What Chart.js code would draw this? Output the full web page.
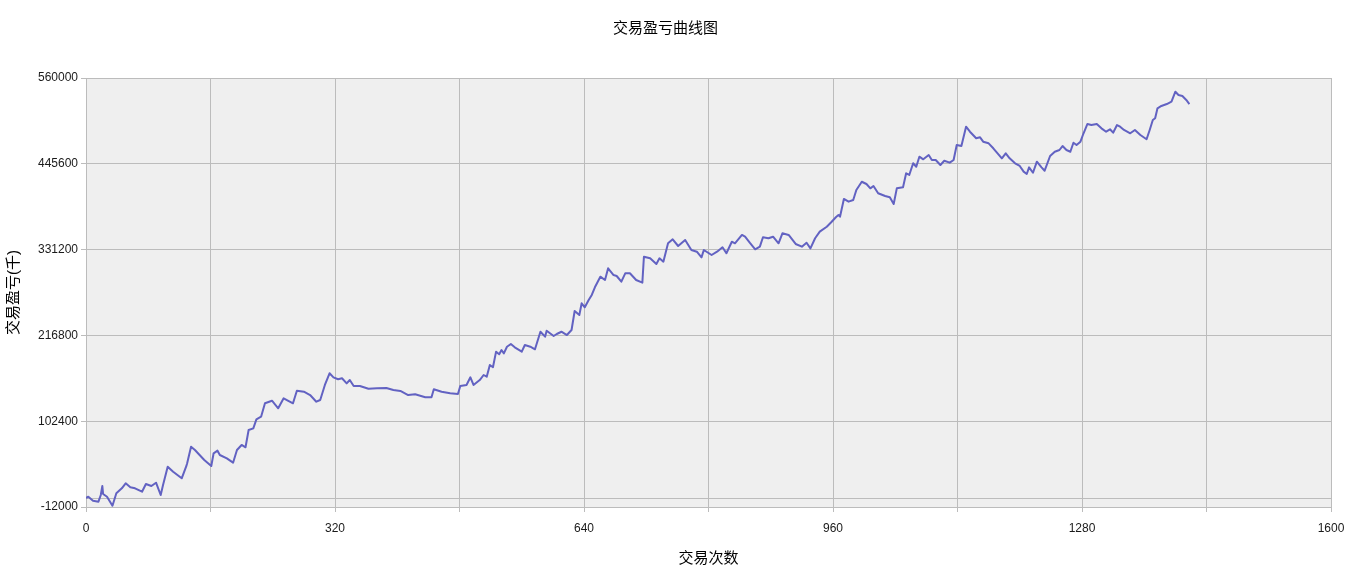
<!DOCTYPE html>
<html>
<head>
<meta charset="utf-8">
<title>交易盈亏曲线图</title>
<script src="https://cdn.jsdelivr.net/npm/chart.js@4.4.1/dist/chart.umd.min.js"></script>
<style>
  html, body { margin: 0; padding: 0; background: #ffffff; }
  #wrap { width: 1350px; height: 576px; }
</style>
</head>
<body>
<div id="wrap"><canvas id="pnl-chart" width="1350" height="576"></canvas></div>
<script>
// --- Data ---
var chartTitle = '交易盈亏曲线图';
var xTitle = '交易次数';
var yTitle = '交易盈亏(千)';

// trade number of each sampled point
var trades = [
  0, 3, 9, 16, 19, 21, 22, 27, 34, 39, 46, 51, 57, 63, 72, 77, 84, 90, 96, 99,
  105, 112, 123, 129, 130, 135, 140, 152, 161, 164, 169, 172, 181, 189, 194, 200, 205, 209, 215, 219,
  225, 230, 239, 247, 254, 266, 271, 280, 288, 296, 301, 307, 313, 318, 324, 329, 335, 339, 344, 352,
  363, 374, 386, 395, 404, 414, 423, 436, 444, 447, 457, 468, 478, 481, 489, 494, 498, 506, 511, 515,
  519, 523, 527, 531, 534, 537, 541, 546, 551, 560, 564, 571, 577, 584, 590, 592, 601, 605, 611, 618,
  624, 628, 634, 637, 641, 646, 650, 654, 661, 667, 671, 678, 682, 688, 693, 699, 707, 715, 717, 725,
  733, 737, 742, 748, 754, 761, 770, 778, 785, 791, 794, 804, 811, 818, 823, 830, 834, 843, 847, 853,
  860, 866, 870, 877, 883, 890, 895, 903, 912, 920, 926, 931, 937, 943, 952, 958, 964, 967, 969, 974,
  980, 986, 990, 997, 1003, 1008, 1012, 1018, 1027, 1033, 1038, 1042, 1050, 1054, 1058, 1063, 1067, 1071, 1076, 1083,
  1087, 1092, 1098, 1103, 1110, 1115, 1119, 1125, 1131, 1136, 1144, 1149, 1153, 1160, 1166, 1177, 1182, 1187, 1194, 1200,
  1205, 1209, 1212, 1217, 1222, 1228, 1232, 1239, 1245, 1251, 1255, 1260, 1265, 1269, 1273, 1278, 1282, 1287, 1292, 1299,
  1305, 1311, 1316, 1320, 1325, 1329, 1334, 1342, 1348, 1355, 1363, 1367, 1371, 1374, 1377, 1382, 1389, 1395, 1400, 1404,
  1409, 1414, 1418
];

// cumulative profit / loss at each sampled point
var pnl = [
  0, 1700, -3600, -4900, 4000, 16000, 5300, 1700, -10300, 6300, 12900, 19600, 14300, 12900, 8400, 18700, 16000, 20400, 4000, 17300,
  41700, 35100, 26300, 42700, 46300, 68400, 64000, 50700, 42700, 59600, 63100, 57300, 52900, 47100, 64000, 70700, 67600, 90700, 92900, 104900,
  108400, 126300, 129700, 119600, 132900, 126300, 143100, 141700, 137300, 128400, 130700, 150700, 166300, 160900, 158300, 159600, 152900, 157300, 149300, 149300,
  145700, 146300, 146700, 144000, 142700, 137300, 138300, 134300, 134300, 144900, 141700, 139600, 138700, 149300, 150700, 160900, 150700, 157300, 164000, 161700,
  177300, 174300, 195100, 191600, 197300, 192900, 201700, 205300, 200900, 195100, 204000, 201700, 198300, 221700, 215100, 223100, 216000, 218700, 221700, 217300,
  224000, 249300, 244000, 259600, 254300, 264000, 270700, 280900, 295100, 290700, 306300, 297300, 296000, 288400, 299600, 299600, 290700, 287100, 321700, 319600,
  312000, 319600, 315100, 339600, 344900, 336000, 344000, 330700, 328400, 320900, 330700, 324000, 328400, 334300, 326300, 341700, 339600, 350700, 348400, 340400,
  331600, 335100, 347600, 346300, 348400, 339600, 352900, 350700, 338700, 335100, 340400, 332900, 346300, 355100, 361700, 368000, 374700, 377300, 375100, 398700,
  395100, 397300, 410700, 421700, 418700, 412900, 416000, 406300, 402700, 400900, 392000, 412900, 414300, 432900, 430700, 446300, 441700, 455100, 451600, 457300,
  450700, 450700, 444000, 449700, 447100, 450700, 470700, 469300, 495100, 488400, 479600, 480900, 475100, 472900, 466300, 452900, 459600, 452900, 446300, 442700,
  435100, 432000, 440900, 433700, 448400, 440900, 436400, 456000, 461700, 464000, 469300, 464000, 461700, 473700, 470700, 475100, 486300, 498700, 497300, 498700,
  492900, 488400, 491600, 487100, 497300, 495100, 490700, 486300, 490700, 484000, 478300, 490700, 504000, 506300, 519600, 522700, 525300, 528400, 541700, 537300,
  536000, 530700, 525300
];

// axis ticks (x gridline every 160, label every 320; extra unlabeled y line at zero)
var xTicks = [0, 160, 320, 480, 640, 800, 960, 1120, 1280, 1440, 1600];
var xLabelled = [0, 320, 640, 960, 1280, 1600];
var yTicks = [-12000, 0, 102400, 216800, 331200, 445600, 560000];
var yLabelled = [-12000, 102400, 216800, 331200, 445600, 560000];

(function () {
  'use strict';

  if (typeof Chart === 'undefined') return;

  var colors = {
    line:     '#6262c2',
    plotBg:   '#efefef',
    grid:     '#bcbcbc',
    text:     '#1a1a1a'
  };

  var fontFamily = '"Liberation Sans", Arial, "Noto Sans CJK SC", sans-serif';

  // Plugin: grey fill behind the plotting area only
  var plotBackground = {
    id: 'plotBackground',
    beforeDraw: function (chart) {
      var a = chart.chartArea;
      var ctx = chart.ctx;
      ctx.save();
      ctx.fillStyle = colors.plotBg;
      ctx.fillRect(a.left, a.top, a.right - a.left, a.bottom - a.top);
      ctx.restore();
    }
  };

  function fixedTicks(list) {
    return function (scale) {
      scale.ticks = list.map(function (v) { return { value: v }; });
    };
  }

  var points = trades.map(function (t, i) { return { x: t, y: pnl[i] }; });

  var ctx = document.getElementById('pnl-chart').getContext('2d');

  new Chart(ctx, {
    type: 'line',
    data: {
      datasets: [{
        data: points,
        borderColor: colors.line,
        borderWidth: 2,
        borderJoinStyle: 'round',
        pointRadius: 0,
        tension: 0,
        fill: false
      }]
    },
    options: {
      responsive: false,
      animation: false,
      devicePixelRatio: 1,
      layout: { padding: { left: 0, right: 19, top: 0, bottom: 0 } },
      plugins: {
        legend: { display: false },
        tooltip: { enabled: false },
        title: {
          display: true,
          text: chartTitle,
          color: '#000000',
          font: { family: fontFamily, size: 15, weight: 'normal' },
          padding: { top: 20, bottom: 40 }
        }
      },
      scales: {
        x: {
          type: 'linear',
          min: 0,
          max: 1600,
          afterBuildTicks: fixedTicks(xTicks),
          afterFit: function (scale) {
            scale.height = 69;
            // let layout.padding alone decide the right edge
            scale.paddingLeft = 0;
            scale.paddingRight = 0;
          },
          grid: {
            color: colors.grid,
            tickColor: colors.grid,
            tickLength: 5,
            lineWidth: 1
          },
          border: { color: colors.grid },
          ticks: {
            color: colors.text,
            padding: 9,
            maxRotation: 0,
            autoSkip: false,
            font: { family: fontFamily, size: 12 },
            callback: function (value) {
              return xLabelled.indexOf(value) >= 0 ? String(value) : '';
            }
          },
          title: {
            display: true,
            text: xTitle,
            color: '#000000',
            font: { family: fontFamily, size: 15 },
            padding: { top: 0, bottom: 8 }
          }
        },
        y: {
          type: 'linear',
          min: -12000,
          max: 560000,
          afterBuildTicks: fixedTicks(yTicks),
          afterFit: function (scale) { scale.width = 86; },
          grid: {
            color: colors.grid,
            tickLength: 5,
            lineWidth: 1,
            // the zero line has no tick mark outside the plot
            tickColor: function (c) {
              return c.tick && c.tick.value === 0 ? 'rgba(0,0,0,0)' : colors.grid;
            }
          },
          border: { color: colors.grid },
          ticks: {
            color: colors.text,
            padding: 3,
            autoSkip: false,
            font: { family: fontFamily, size: 12 },
            callback: function (value) {
              return yLabelled.indexOf(value) >= 0 ? String(value) : '';
            }
          },
          title: {
            display: true,
            text: yTitle,
            color: '#000000',
            font: { family: fontFamily, size: 15 },
            padding: { top: 5, bottom: 0 }
          }
        }
      }
    },
    plugins: [plotBackground]
  });

})();
</script>
</body>
</html>
